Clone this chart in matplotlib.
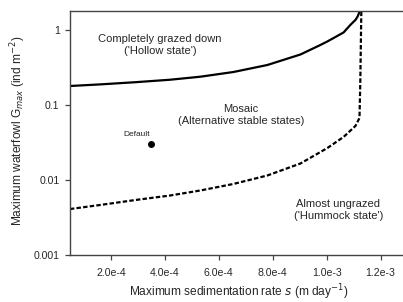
import matplotlib.pyplot as plt
import matplotlib.ticker as mticker

plt.rcParams['font.family'] = ['Liberation Sans', 'DejaVu Sans']

# upper boundary (solid): grazed down above it
s_upper = [4.76e-5, 1.59e-4, 2.89e-4, 4.19e-4, 5.31e-4, 6.54e-4, 7.80e-4,
           9.03e-4, 9.77e-4, 1.003e-3, 1.063e-3, 1.088e-3, 1.107e-3,
           1.115e-3, 1.129e-3]
g_upper = [0.179, 0.188, 0.201, 0.217, 0.238, 0.275, 0.341,
           0.471, 0.631, 0.703, 0.926, 1.166, 1.36,
           1.51, 2.0]

# lower boundary (dashed): almost ungrazed below it
s_lower = [4.76e-5, 1.59e-4, 2.89e-4, 4.19e-4, 5.31e-4, 6.54e-4, 7.80e-4,
           9.03e-4, 1.003e-3, 1.063e-3, 1.107e-3, 1.122e-3, 1.125e-3, 1.129e-3]
g_lower = [0.0041, 0.00464, 0.0054, 0.00621, 0.00724, 0.00885, 0.01148,
           0.0166, 0.0267, 0.0375, 0.0525, 0.0671, 0.2, 2.0]

default_s = 3.5e-4
default_g = 0.03

xticks = [2e-4, 4e-4, 6e-4, 8e-4, 1e-3, 1.2e-3]
xticklabels = ['2.0e-4', '4.0e-4', '6.0e-4', '8.0e-4', '1.0e-3', '1.2e-3']
yticks = [0.001, 0.01, 0.1, 1]
yticklabels = ['0.001', '0.01', '0.1', '1']

txt = '#262626'
fig = plt.figure(figsize=(4.03, 3.02), dpi=100)
ax = fig.add_axes([0.1737, 0.1556, 0.824, 0.808])

ax.plot(s_upper, g_upper, color='black', lw=1.6, solid_capstyle='butt')
ax.plot(s_lower, g_lower, color='black', lw=1.6, linestyle=(0, (2, 1)))
ax.plot([default_s], [default_g], 'o', color='black', ms=4)

ax.set_yscale('log')
ax.set_xlim(4.8e-5, 1.28e-3)
ax.set_ylim(0.001, 1.79)

ax.yaxis.set_major_locator(mticker.FixedLocator(yticks))
ax.yaxis.set_minor_locator(mticker.NullLocator())
ax.set_yticklabels(yticklabels)
ax.set_xticks(xticks)
ax.set_xticklabels(xticklabels)
ax.tick_params(direction='out', length=3.5, width=0.9, labelsize=7.6,
               colors='#444444', labelcolor=txt)
ax.tick_params(axis='x', pad=6)
ax.tick_params(axis='y', pad=4)

for side in ['left', 'bottom', 'top']:
    ax.spines[side].set_linewidth(1.0)
    ax.spines[side].set_color('#444444')
ax.spines['right'].set_visible(False)

fig.text(0.593, 1 - 292 / 302, 'Maximum sedimentation rate $s$ (m day$^{-1}$)',
         fontsize=8.6, color=txt, ha='center', va='center')
fig.text(18 / 403, 1 - 131 / 302, 'Maximum waterfowl G$_{max}$ (ind m$^{-2}$)',
         fontsize=8.6, color=txt, ha='center', va='center', rotation=90)

ax.text(3.82e-4, 0.63, "Completely grazed down\n('Hollow state')",
        ha='center', va='center', fontsize=8, color=txt, linespacing=1.25)
ax.text(6.83e-4, 0.0736, "Mosaic\n(Alternative stable states)",
        ha='center', va='center', fontsize=8, color=txt, linespacing=1.25)
ax.text(1.044e-3, 0.00398, "Almost ungrazed\n('Hummock state')",
        ha='center', va='center', fontsize=8, color=txt, linespacing=1.25)
ax.text(2.97e-4, 0.0398, 'Default', ha='center', va='center',
        fontsize=6, color=txt)

fig.savefig('out.png', dpi=100)
